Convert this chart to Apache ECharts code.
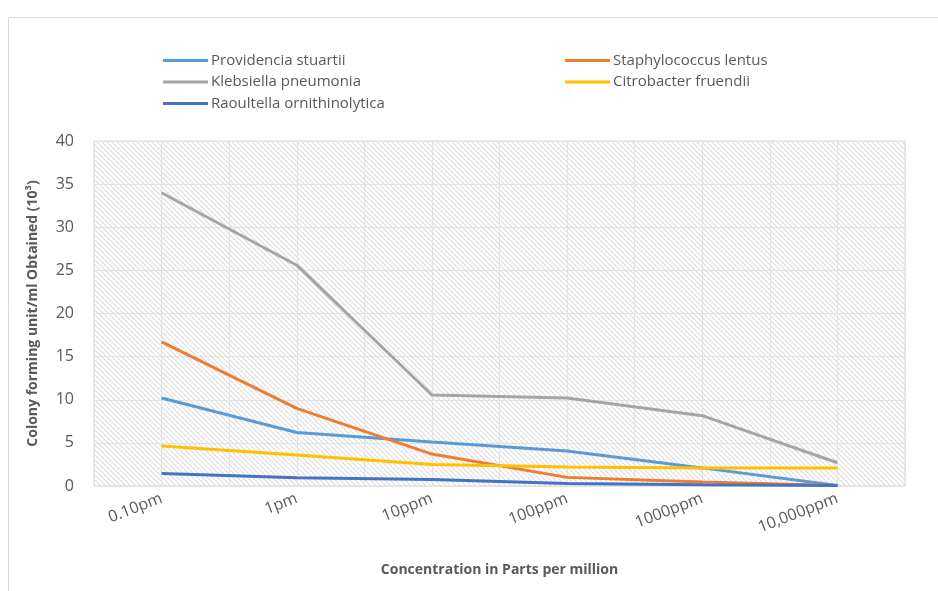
<!DOCTYPE html>
<html>
<head>
<meta charset="utf-8">
<script src="https://cdn.jsdelivr.net/npm/echarts@6/dist/echarts.min.js"></script>
<style>
  html, body { margin: 0; padding: 0; background: #fff; }
  #chart { width: 938px; height: 591px; }
</style>
</head>
<body>
<div id="chart"></div>
<script>
var categories = ['0.10pm', '1pm', '10ppm', '100ppm', '1000ppm', '10,000ppm'];
var yTicks = [0, 5, 10, 15, 20, 25, 30, 35, 40];

var providencia = [10.2, 6.2, 5.1, 4.05, 2.1, 0.05];
var staphylococcus = [16.7, 9.0, 3.7, 1.0, 0.45, 0.05];
var klebsiella = [34.0, 25.6, 10.55, 10.2, 8.15, 2.7];
var citrobacter = [4.65, 3.6, 2.5, 2.2, 2.1, 2.1];
var raoultella = [1.45, 0.95, 0.75, 0.3, 0.15, 0.05];

// hatched plot background
var tile = document.createElement('canvas');
tile.width = 10;
tile.height = 10;
var ctx = tile.getContext('2d');
ctx.fillStyle = '#ffffff';
ctx.fillRect(0, 0, 10, 10);
ctx.strokeStyle = '#dedede';
ctx.lineWidth = 1.2;
for (var k = -10; k <= 10; k += 5) {
    ctx.beginPath();
    ctx.moveTo(k, 0);
    ctx.lineTo(k + 10, 10);
    ctx.stroke();
}

var font = '"Open Sans", "Noto Sans", sans-serif';
var textColor = '#595959';

function lineSeries(name, data, color) {
    return {
        name: name,
        type: 'line',
        data: data,
        symbol: 'none',
        smooth: false,
        lineStyle: {color: color, width: 3},
        itemStyle: {color: color}
    };
}

var legendStyle = {
    orient: 'vertical',
    icon: 'rect',
    padding: 0,
    itemWidth: 45, itemHeight: 3, itemGap: 6.5,
    textStyle: {color: textColor, fontSize: 15, fontFamily: font, padding: [0, 0, 0, -2]}
};

var myChart = echarts.init(document.getElementById('chart'));
var option = {
    animation: false,
    textStyle: {fontFamily: font},
    graphic: [
        {
            type: 'rect',
            left: 6, top: 15,
            shape: {width: 1000, height: 1000},
            style: {fill: 'none', stroke: '#d9d9d9', lineWidth: 1},
            silent: true
        }
    ],
    legend: [
        Object.assign({}, legendStyle, {
            left: 163, top: 53,
            data: ['Providencia stuartii', 'Klebsiella pneumonia', 'Raoultella ornithinolytica']
        }),
        Object.assign({}, legendStyle, {
            left: 565, top: 53,
            data: ['Staphylococcus lentus', 'Citrobacter fruendii']
        })
    ],
    grid: {
        left: 94, top: 141, width: 811, height: 345,
        show: true,
        backgroundColor: {image: tile, repeat: 'repeat'},
        borderColor: '#d9d9d9',
        borderWidth: 1
    },
    xAxis: [
        {
            type: 'category',
            data: categories,
            boundaryGap: true,
            name: 'Concentration in Parts per million',
            nameLocation: 'middle',
            nameGap: 77,
            nameTextStyle: {color: textColor, fontSize: 14, fontWeight: 'bold', fontFamily: font},
            axisLine: {show: false},
            axisTick: {show: false},
            splitLine: {show: false},
            axisLabel: {
                color: textColor, fontSize: 16, rotate: 21, margin: 12,
                interval: 0, fontFamily: font
            }
        },
        {
            type: 'value',
            min: 0, max: 12, interval: 1,
            show: true,
            position: 'top',
            axisLine: {show: false},
            axisTick: {show: false},
            axisLabel: {show: false},
            splitLine: {show: true, lineStyle: {color: '#e3e3e3', width: 1}}
        }
    ],
    yAxis: {
        type: 'value',
        min: yTicks[0], max: yTicks[yTicks.length - 1], interval: 5,
        name: 'Colony forming unit/ml Obtained (10³)',
        nameLocation: 'middle',
        nameGap: 54,
        nameTextStyle: {color: textColor, fontSize: 14, fontWeight: 'bold', fontFamily: font},
        axisLine: {show: false},
        axisTick: {show: false},
        axisLabel: {color: textColor, fontSize: 16, margin: 20, fontFamily: font},
        splitLine: {show: true, lineStyle: {color: '#e3e3e3', width: 1}}
    },
    series: [
        lineSeries('Providencia stuartii', providencia, '#5B9BD5'),
        lineSeries('Staphylococcus lentus', staphylococcus, '#ED7D31'),
        lineSeries('Klebsiella pneumonia', klebsiella, '#A5A5A5'),
        lineSeries('Citrobacter fruendii', citrobacter, '#FFC000'),
        lineSeries('Raoultella ornithinolytica', raoultella, '#4472C4')
    ]
};
myChart.setOption(option, true);
</script>
</body>
</html>
